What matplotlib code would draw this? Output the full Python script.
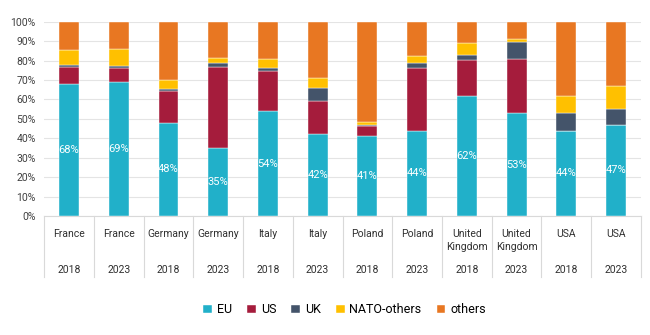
import matplotlib
matplotlib.use("Agg")
import matplotlib.pyplot as plt
import matplotlib.transforms as mtransforms
import numpy as np

plt.rcParams['font.family'] = ['Roboto', 'DejaVu Sans']

countries = ["France", "France", "Germany", "Germany", "Italy", "Italy",
             "Poland", "Poland", "United\nKingdom", "United\nKingdom", "USA", "USA"]
years = ["2018", "2023"] * 6

eu = [68, 69, 48, 35, 54, 42, 41, 44, 62, 53, 44, 47]
us = [8.5, 7, 16.3, 41.5, 20.6, 17.3, 5.5, 32, 18.5, 28, 0, 0]
uk = [1.2, 1.2, 1.2, 2.1, 1.4, 6.6, 0.3, 2.6, 2.6, 8.4, 9, 8]
nato_others = [8, 9, 4.5, 2.7, 4.6, 5.1, 1.5, 3.7, 5.8, 1.9, 9, 11.8]
others = [100 - a - b - c - d for a, b, c, d in zip(eu, us, uk, nato_others)]

series = [("EU", eu, "#21B0C9"), ("US", us, "#A51C3C"), ("UK", uk, "#44546A"),
          ("NATO-others", nato_others, "#FFC000"), ("others", others, "#E87722")]

fig = plt.figure(figsize=(6.5, 3.35), dpi=100)
ax = fig.add_axes([0.068, 0.355, 0.918, 0.58])

x = np.arange(len(eu))
bottom = np.zeros(len(eu))
for name, vals, col in series:
    vals = np.array(vals, dtype=float)
    ax.bar(x, vals, bottom=bottom, width=0.4, color=col, label=name,
           edgecolor="white", linewidth=0.3, zorder=3)
    bottom += vals

for xi, v in zip(x, eu):
    ax.text(xi, v / 2, f"{v:.0f}%", ha="center", va="center", color="white",
            fontsize=8, zorder=4)

ax.set_xlim(-0.5, len(eu) - 0.5)
ax.set_ylim(0, 100)
ax.set_yticks(np.arange(0, 101, 10))
ax.set_yticklabels([f"{v}%" for v in range(0, 101, 10)], fontsize=7.5, color="#404040")
ax.tick_params(axis="y", length=0, pad=6)
ax.set_xticks([])
ax.grid(axis="y", color="#E4E4E4", linewidth=0.8, zorder=0)
for s in ["top", "right", "left"]:
    ax.spines[s].set_visible(False)
ax.spines["bottom"].set_color("#D9D9D9")

trans = mtransforms.blended_transform_factory(ax.transData, ax.transAxes)
for b in np.arange(-0.5, len(eu), 1.0):
    ax.plot([b, b], [0, -0.315], color="#D9D9D9", linewidth=0.8,
            transform=trans, clip_on=False)
for xi, c, y in zip(x, countries, years):
    ax.text(xi, -0.065, c, ha="center", va="top", fontsize=7.5, color="#303030",
            transform=trans, linespacing=1.35)
    ax.text(xi, -0.25, y, ha="center", va="top", fontsize=7.5, color="#303030",
            transform=trans)

handles, labels = ax.get_legend_handles_labels()
fig.legend(handles, labels, loc="center", bbox_to_anchor=(0.53, 0.075), ncol=5,
           frameon=False, fontsize=9, handlelength=0.7, handleheight=0.7,
           handletextpad=0.4, columnspacing=1.2)

fig.savefig("out.png", dpi=100)
